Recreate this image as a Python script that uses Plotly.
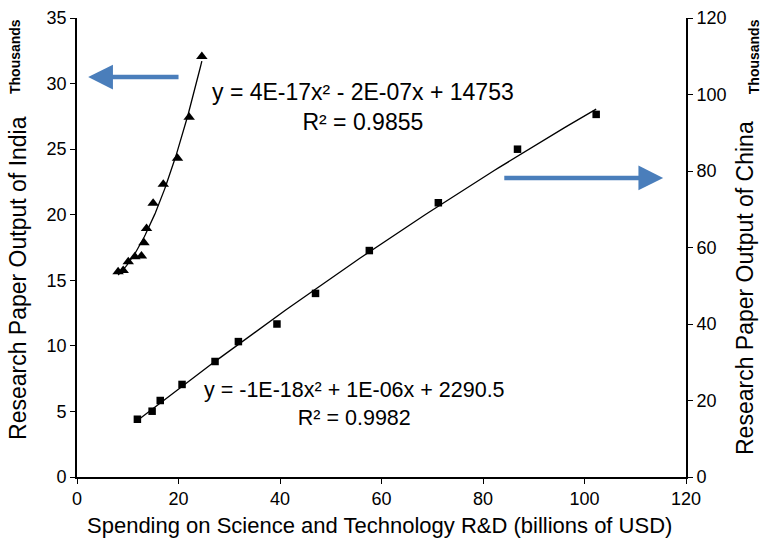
import numpy as np
import plotly.graph_objects as go

# India: spending (billions USD) vs research paper output (thousands)
india_x = [8.1, 9.1, 10.1, 11.4, 12.7, 13.2, 13.7, 15.0, 17.0, 19.8, 22.1, 24.6]
india_y = [15.66, 15.74, 16.42, 16.8, 16.86, 17.87, 18.94, 20.88, 22.33, 24.31, 27.44, 32.06]

# China: spending (billions USD) vs research paper output (thousands)
china_x = [11.9, 14.8, 16.4, 20.7, 27.2, 31.8, 39.4, 47.0, 57.6, 71.2, 86.8, 102.3]
china_y = [15.1, 17.2, 20.0, 24.2, 30.2, 35.4, 40.0, 48.0, 59.2, 71.7, 85.7, 94.8]

x_ticks = [0, 20, 40, 60, 80, 100, 120]
left_ticks = [0, 5, 10, 15, 20, 25, 30, 35]
right_ticks = [0, 20, 40, 60, 80, 100, 120]

india_eq = "y = 4E-17x² - 2E-07x + 14753<br>R² = 0.9855"
china_eq = "y = -1E-18x² + 1E-06x + 2290.5<br>R² = 0.9982"

FONT = "Liberation Sans, Arial, sans-serif"
ARROW = "#4a7ebb"

def trend(xs, ys):
    c = np.polyfit(xs, ys, 2)
    xx = np.linspace(min(xs), max(xs), 100)
    return xx, np.polyval(c, xx)

fig = go.Figure()
tx, ty = trend(india_x, india_y)
fig.add_trace(go.Scatter(x=tx, y=ty, mode="lines", line=dict(color="black", width=1.3),
                         showlegend=False, hoverinfo="skip"))
fig.add_trace(go.Scatter(x=india_x, y=india_y, mode="markers",
                         marker=dict(symbol="triangle-up", size=10, color="black"),
                         showlegend=False))
cx, cy = trend(china_x, china_y)
fig.add_trace(go.Scatter(x=cx, y=cy, mode="lines", line=dict(color="black", width=1.3),
                         yaxis="y2", showlegend=False, hoverinfo="skip"))
fig.add_trace(go.Scatter(x=china_x, y=china_y, mode="markers",
                         marker=dict(symbol="square", size=7.5, color="black"),
                         yaxis="y2", showlegend=False))

axis_common = dict(showgrid=False, zeroline=False, showline=True, linecolor="black",
                   linewidth=1.6, ticks="outside", ticklen=5, tickcolor="black",
                   tickwidth=1.2,
                   tickfont=dict(size=18, color="black", family=FONT))

fig.update_layout(
    width=764, height=545,
    margin=dict(l=77, r=78, t=18, b=68, autoexpand=False),
    plot_bgcolor="white", paper_bgcolor="white",
    font=dict(family=FONT, color="black"),
    xaxis=dict(range=[0, 120], tickvals=x_ticks, **axis_common),
    yaxis=dict(range=[0, 35], tickvals=left_ticks, **axis_common),
    yaxis2=dict(range=[0, 120], tickvals=right_ticks, overlaying="y", side="right",
                **axis_common),
)

ann = [
    dict(text="Spending on Science and Technology R&D (billions of USD)", xref="paper",
         yref="paper", x=0.4975, y=-0.1046, yanchor="middle", xanchor="center",
         showarrow=False, font=dict(size=22)),
    dict(text="Research Paper Output of India", xref="paper", yref="paper",
         x=-0.0969, y=0.4336, textangle=-90, showarrow=False, font=dict(size=23),
         xanchor="center", yanchor="middle"),
    dict(text="<b>Thousands</b>", xref="paper", yref="paper", x=-0.1018, y=0.915,
         textangle=-90, showarrow=False, font=dict(size=14), xanchor="center",
         yanchor="middle"),
    dict(text="Research Paper Output of China", xref="paper", yref="paper",
         x=1.0969, y=0.4118, textangle=-90, showarrow=False, font=dict(size=23),
         xanchor="center", yanchor="middle"),
    dict(text="<b>Thousands</b>", xref="paper", yref="paper", x=1.112, y=0.915,
         textangle=-90, showarrow=False, font=dict(size=14), xanchor="center",
         yanchor="middle"),
    dict(text=india_eq, x=56.45, y=28.18, xref="x", yref="y", showarrow=False,
         font=dict(size=23), align="center"),
    dict(text=china_eq, x=54.6, y=5.53, xref="x", yref="y", showarrow=False,
         font=dict(size=21.5), align="center"),
    dict(x=2.2, y=30.5, ax=20.3, ay=30.5, xref="x", yref="y", axref="x", ayref="y",
         text="", showarrow=True, arrowhead=2, arrowsize=1.1, arrowwidth=4.5,
         arrowcolor=ARROW),
    dict(x=115.5, y=22.8, ax=83.9, ay=22.8, xref="x", yref="y", axref="x", ayref="y",
         text="", showarrow=True, arrowhead=2, arrowsize=1.1, arrowwidth=4.5,
         arrowcolor=ARROW),
]
fig.update_layout(annotations=ann)

fig.write_html("out.html", config={"displayModeBar": False},
               post_script="document.body.style.margin='0';")
